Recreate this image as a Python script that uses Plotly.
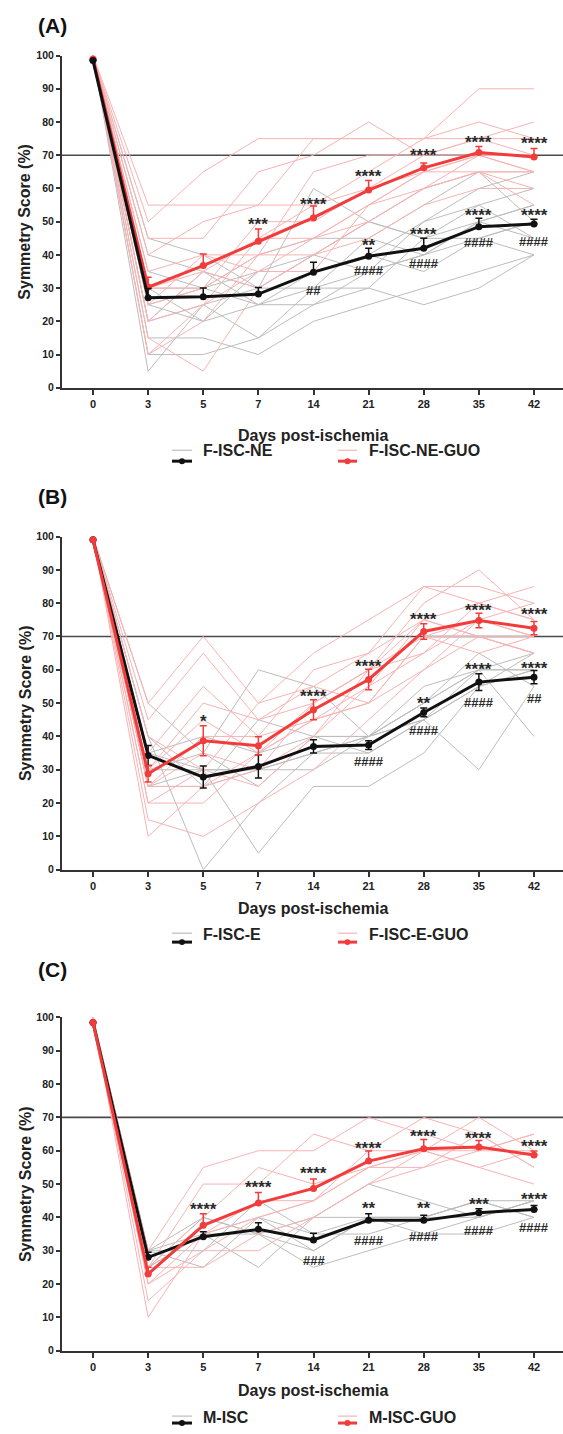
import plotly.graph_objects as go

W, H = 563, 1434

days = ["0", "3", "5", "7", "14", "21", "28", "35", "42"]

# ---------------- Panel A ----------------
a_ctrl_name = "F-ISC-NE"
a_guo_name = "F-ISC-NE-GUO"
a_ctrl_mean = [98.5, 27.1, 27.4, 28.2, 34.8, 39.6, 42.0, 48.5, 49.3]
a_ctrl_sem = [0, 2.8, 2.6, 2.0, 3.0, 2.4, 3.0, 2.5, 1.4]
a_guo_mean = [99.0, 30.3, 36.8, 44.1, 51.2, 59.5, 66.2, 70.8, 69.5]
a_guo_sem = [0, 3.0, 3.5, 3.7, 3.5, 2.9, 1.5, 1.8, 2.5]
a_ctrl_indiv = [
    [100, 45, 40, 30, 60, 50, 45, 55, 45],
    [100, 40, 35, 25, 25, 30, 25, 30, 40],
    [100, 35, 30, 40, 45, 45, 55, 65, 50],
    [100, 30, 30, 35, 35, 40, 50, 60, 65],
    [100, 30, 20, 25, 30, 45, 40, 50, 55],
    [100, 25, 30, 25, 35, 40, 35, 45, 50],
    [100, 25, 20, 35, 40, 50, 45, 50, 45],
    [100, 20, 25, 15, 30, 35, 40, 50, 55],
    [100, 20, 35, 30, 30, 30, 45, 45, 40],
    [100, 15, 15, 10, 20, 25, 30, 35, 40],
    [100, 10, 10, 15, 25, 35, 40, 45, 50],
    [100, 5, 25, 30, 40, 35, 50, 55, 60],
]
a_guo_indiv = [
    [100, 55, 55, 55, 55, 65, 75, 90, 90],
    [100, 50, 65, 75, 75, 75, 75, 75, 75],
    [100, 45, 45, 65, 70, 80, 70, 75, 70],
    [100, 40, 50, 55, 75, 75, 75, 80, 75],
    [100, 35, 40, 40, 65, 70, 70, 75, 80],
    [100, 30, 35, 45, 55, 60, 70, 70, 65],
    [100, 30, 30, 50, 50, 60, 65, 70, 70],
    [100, 25, 40, 35, 45, 55, 65, 65, 65],
    [100, 25, 30, 40, 40, 50, 60, 65, 60],
    [100, 20, 25, 45, 45, 55, 65, 70, 70],
    [100, 20, 35, 30, 40, 50, 60, 65, 55],
    [100, 15, 5, 30, 40, 45, 55, 60, 60],
    [100, 10, 25, 35, 35, 55, 60, 65, 65],
    [100, 10, 20, 40, 45, 50, 60, 70, 65],
]
a_sig_text = ["***", "****", "****", "****", "****", "****",
              "##", "**", "####", "****", "####", "****", "####", "****", "####"]
a_sig_day = ["7", "14", "21", "28", "35", "42",
             "14", "21", "21", "28", "28", "35", "35", "42", "42"]
a_sig_y = [50.5, 56.5, 64.7, 71.1, 75.1, 74.6,
           29.4, 44.1, 35.3, 47.3, 37.3, 53.2, 43.8, 53.0, 43.9]

# ---------------- Panel B ----------------
b_ctrl_name = "F-ISC-E"
b_guo_name = "F-ISC-E-GUO"
b_ctrl_mean = [99.0, 34.3, 27.8, 31.0, 37.0, 37.4, 47.2, 56.3, 57.8]
b_ctrl_sem = [0, 3.0, 3.3, 3.5, 2.0, 1.3, 1.3, 2.5, 2.0]
b_guo_mean = [99.0, 28.8, 38.7, 37.2, 48.0, 57.1, 71.5, 74.8, 72.5]
b_guo_sem = [0, 2.5, 4.5, 2.7, 3.0, 3.1, 2.3, 2.2, 2.0]
b_ctrl_indiv = [
    [100, 50, 35, 60, 55, 40, 55, 60, 60],
    [100, 40, 0, 20, 35, 40, 50, 60, 65],
    [100, 40, 25, 45, 40, 40, 45, 60, 60],
    [100, 35, 30, 5, 25, 25, 35, 55, 60],
    [100, 35, 40, 35, 40, 35, 45, 30, 55],
    [100, 30, 30, 30, 35, 35, 45, 55, 65],
    [100, 30, 35, 25, 40, 40, 50, 60, 40],
    [100, 25, 25, 30, 35, 40, 50, 65, 55],
    [100, 25, 30, 30, 30, 40, 45, 55, 60],
]
b_guo_indiv = [
    [100, 50, 70, 50, 55, 65, 85, 80, 85],
    [100, 45, 65, 45, 50, 60, 80, 90, 75],
    [100, 40, 30, 50, 65, 75, 85, 85, 80],
    [100, 35, 55, 40, 60, 65, 75, 80, 75],
    [100, 30, 50, 45, 55, 50, 70, 75, 70],
    [100, 30, 45, 35, 50, 60, 75, 70, 70],
    [100, 25, 40, 40, 45, 55, 65, 75, 80],
    [100, 25, 35, 30, 40, 60, 70, 70, 65],
    [100, 25, 25, 35, 45, 50, 60, 75, 70],
    [100, 20, 30, 25, 40, 55, 75, 70, 65],
    [100, 20, 20, 35, 45, 50, 70, 65, 70],
    [100, 15, 10, 20, 30, 45, 60, 70, 65],
    [100, 10, 25, 30, 50, 60, 65, 80, 75],
]
b_sig_text = ["*", "****", "****", "****", "****", "****",
              "####", "**", "####", "****", "####", "****", "##"]
b_sig_day = ["5", "14", "21", "28", "35", "42",
             "21", "28", "28", "35", "35", "42", "42"]
b_sig_y = [45.7, 53.1, 62.3, 76.2, 79.1, 77.7,
           32.5, 51.1, 41.7, 61.3, 50.1, 61.6, 51.3]

# ---------------- Panel C ----------------
c_ctrl_name = "M-ISC"
c_guo_name = "M-ISC-GUO"
c_ctrl_mean = [98.5, 28.0, 34.2, 36.4, 33.2, 39.1, 39.1, 41.4, 42.4]
c_ctrl_sem = [0, 1.5, 1.5, 2.0, 2.0, 2.0, 1.5, 1.2, 1.2]
c_guo_mean = [98.5, 23.0, 37.6, 44.3, 48.7, 56.9, 60.6, 61.1, 58.7]
c_guo_sem = [0, 2.0, 3.5, 3.2, 2.8, 3.0, 2.8, 2.0, 1.2]
c_ctrl_indiv = [
    [100, 30, 40, 35, 40, 50, 45, 40, 45],
    [100, 30, 35, 40, 30, 40, 40, 45, 45],
    [100, 30, 30, 45, 35, 35, 40, 45, 40],
    [100, 25, 40, 35, 25, 30, 35, 40, 45],
    [100, 30, 25, 40, 35, 40, 35, 35, 40],
    [100, 25, 35, 25, 40, 40, 40, 45, 40],
    [100, 25, 35, 35, 30, 40, 40, 40, 45],
]
c_guo_indiv = [
    [100, 30, 55, 60, 60, 70, 65, 60, 65],
    [100, 25, 50, 50, 65, 60, 70, 65, 55],
    [100, 25, 40, 55, 50, 55, 60, 70, 60],
    [100, 20, 35, 45, 45, 55, 55, 65, 55],
    [100, 20, 30, 40, 45, 55, 60, 55, 60],
    [100, 25, 25, 35, 40, 50, 55, 60, 65],
    [100, 15, 30, 30, 40, 50, 60, 55, 50],
    [100, 10, 35, 40, 45, 60, 60, 60, 60],
]
c_sig_text = ["****", "****", "****", "****", "****", "****", "****",
              "###", "**", "####", "**", "####", "***", "####", "****", "####"]
c_sig_day = ["5", "7", "14", "21", "28", "35", "42",
             "14", "21", "21", "28", "28", "35", "35", "42", "42"]
c_sig_y = [43.6, 50.2, 54.3, 61.9, 65.6, 64.9, 62.6,
           27.2, 43.8, 33.2, 43.8, 34.2, 45.0, 36.1, 46.5, 36.9]

y_ticks = [0, 10, 20, 30, 40, 50, 60, 70, 80, 90, 100]
threshold = 70

# ---------------- styling / geometry ----------------
FONT = "Liberation Sans, Arial, sans-serif"
BLACK = "#111111"
RED = "#f23b3b"
GRAY_I = "#bcbcbc"
PINK_I = "#f7b3b3"
AX = "#333333"

def px(x):
    return x / W

def py(y):
    return 1 - y / H

PLOT_L, PLOT_R = 62, 563
X0_PX, X8_PX = 93, 534
unit = (X8_PX - X0_PX) / (len(days) - 1)
xr = [(PLOT_L - X0_PX) / unit, (PLOT_R - X0_PX) / unit]

panels = [
    dict(tag="(A)", ctrl_name=a_ctrl_name, guo_name=a_guo_name,
         ctrl_mean=a_ctrl_mean, ctrl_sem=a_ctrl_sem, guo_mean=a_guo_mean, guo_sem=a_guo_sem,
         ctrl_indiv=a_ctrl_indiv, guo_indiv=a_guo_indiv,
         sig=(a_sig_text, a_sig_day, a_sig_y), sym=False, red_top=False,
         top=50, bot=385, lab_y=20, xt_y=433, lf=448, lb=459, lt=448),
    dict(tag="(B)", ctrl_name=b_ctrl_name, guo_name=b_guo_name,
         ctrl_mean=b_ctrl_mean, ctrl_sem=b_ctrl_sem, guo_mean=b_guo_mean, guo_sem=b_guo_sem,
         ctrl_indiv=b_ctrl_indiv, guo_indiv=b_guo_indiv,
         sig=(b_sig_text, b_sig_day, b_sig_y), sym=True, red_top=True,
         top=535, bot=871, lab_y=495, xt_y=910, lf=935, lb=944, lt=936),
    dict(tag="(C)", ctrl_name=c_ctrl_name, guo_name=c_guo_name,
         ctrl_mean=c_ctrl_mean, ctrl_sem=c_ctrl_sem, guo_mean=c_guo_mean, guo_sem=c_guo_sem,
         ctrl_indiv=c_ctrl_indiv, guo_indiv=c_guo_indiv,
         sig=(c_sig_text, c_sig_day, c_sig_y), sym=False, red_top=True,
         top=1020, bot=1356, lab_y=972, xt_y=1396, lf=1422, lb=1429, lt=1423),
]

fig = go.Figure()
xidx = list(range(len(days)))
shapes = []
annotations = []
layout_axes = {}

for i, p in enumerate(panels):
    sfx = "" if i == 0 else str(i + 1)
    xa, ya = "x" + sfx, "y" + sfx

    for line in p["ctrl_indiv"]:
        fig.add_trace(go.Scatter(x=xidx, y=line, mode="lines", xaxis=xa, yaxis=ya,
                                 line=dict(color=GRAY_I, width=1), showlegend=False,
                                 hoverinfo="skip"))
    for line in p["guo_indiv"]:
        fig.add_trace(go.Scatter(x=xidx, y=line, mode="lines", xaxis=xa, yaxis=ya,
                                 line=dict(color=PINK_I, width=1), showlegend=False,
                                 hoverinfo="skip"))

    def mean_trace(mean, sem, color, name):
        minus = sem if p["sym"] else [0] * len(sem)
        return go.Scatter(x=xidx, y=mean, mode="lines+markers", xaxis=xa, yaxis=ya, name=name,
                          line=dict(color=color, width=3),
                          marker=dict(color=color, size=7, symbol="circle"),
                          error_y=dict(type="data", array=sem, arrayminus=minus, symmetric=False,
                                       color=color, thickness=1.5, width=3.5),
                          cliponaxis=False, showlegend=False)

    ctrl_t = mean_trace(p["ctrl_mean"], p["ctrl_sem"], BLACK, p["ctrl_name"])
    guo_t = mean_trace(p["guo_mean"], p["guo_sem"], RED, p["guo_name"])
    if p["red_top"]:
        fig.add_trace(ctrl_t); fig.add_trace(guo_t)
    else:
        fig.add_trace(guo_t); fig.add_trace(ctrl_t)

    layout_axes["xaxis" + sfx] = dict(
        domain=[px(PLOT_L), px(PLOT_R)], range=xr, anchor=ya,
        tickmode="array", tickvals=xidx, ticktext=days,
        showline=True, linecolor=AX, linewidth=2, ticks="outside", ticklen=5,
        tickwidth=1.5, tickcolor=AX, showgrid=False, zeroline=False,
        tickfont=dict(family=FONT, size=11, color="#222", weight="bold"), fixedrange=True)
    layout_axes["yaxis" + sfx] = dict(
        domain=[py(p["bot"]), py(p["top"])], range=[0, 100], anchor=xa,
        tickmode="array", tickvals=y_ticks,
        showline=True, linecolor=AX, linewidth=2, ticks="outside", ticklen=4,
        tickwidth=1.5, tickcolor=AX, showgrid=False, zeroline=False,
        tickfont=dict(family=FONT, size=10.5, color="#222", weight="bold"), fixedrange=True)

    shapes.append(dict(type="line", xref=xa + " domain", yref=ya, x0=0, x1=1,
                       y0=threshold, y1=threshold, line=dict(color="#4a4a4a", width=1.6),
                       layer="below"))

    for t, d, yv in zip(*p["sig"]):
        is_star = t.startswith("*")
        annotations.append(dict(xref=xa, yref=ya, x=days.index(d), y=yv, text=t,
                                showarrow=False, xanchor="center", yanchor="middle",
                                yshift=-4 if is_star else 0,
                                font=dict(family=FONT, size=17 if is_star else 13,
                                          color="#2a2a2a", weight="bold")))

    annotations.append(dict(xref="paper", yref="paper", x=px(52), y=py(p["lab_y"]),
                            text=p["tag"], showarrow=False, xanchor="center", yanchor="middle",
                            font=dict(family=FONT, size=21, color="#111", weight="bold")))
    annotations.append(dict(xref="paper", yref="paper", x=px(25),
                            y=py((p["top"] + p["bot"]) / 2), text="Symmetry Score (%)",
                            textangle=-90, showarrow=False, xanchor="center", yanchor="middle",
                            font=dict(family=FONT, size=16, color="#222", weight="bold")))
    annotations.append(dict(xref="paper", yref="paper", x=px((PLOT_L + PLOT_R) / 2),
                            y=py(p["xt_y"]), text="Days post-ischemia", showarrow=False,
                            xanchor="center", yanchor="middle",
                            font=dict(family=FONT, size=16, color="#222", weight="bold")))

    for (lx0, lx1, tx, faint, strong, label) in [
        (172, 192, 201, GRAY_I, BLACK, p["ctrl_name"]),
        (338, 357, 367, PINK_I, RED, p["guo_name"]),
    ]:
        shapes.append(dict(type="line", xref="paper", yref="paper", x0=px(lx0), x1=px(lx1),
                           y0=py(p["lf"]), y1=py(p["lf"]), line=dict(color=faint, width=1.2)))
        shapes.append(dict(type="line", xref="paper", yref="paper", x0=px(lx0), x1=px(lx1),
                           y0=py(p["lb"]), y1=py(p["lb"]), line=dict(color=strong, width=3)))
        cx = (lx0 + lx1) / 2
        shapes.append(dict(type="circle", xref="paper", yref="paper",
                           x0=px(cx - 3), x1=px(cx + 3), y0=py(p["lb"] + 3), y1=py(p["lb"] - 3),
                           fillcolor=strong, line=dict(color=strong, width=0)))
        annotations.append(dict(xref="paper", yref="paper", x=px(tx), y=py(p["lt"]), text=label,
                                showarrow=False, xanchor="left", yanchor="middle",
                                font=dict(family=FONT, size=16, color="#222", weight="bold")))

fig.update_layout(
    width=W, height=H, margin=dict(l=0, r=0, t=0, b=0),
    paper_bgcolor="white", plot_bgcolor="white", showlegend=False,
    shapes=shapes, annotations=annotations, **layout_axes,
)

fig.write_html("out.html", config={"displayModeBar": False})
